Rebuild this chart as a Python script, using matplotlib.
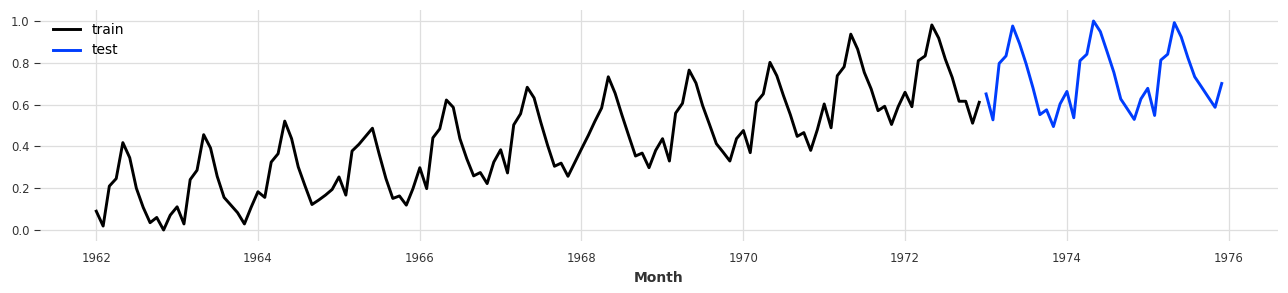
import matplotlib
matplotlib.use("Agg")
import matplotlib.pyplot as plt
import matplotlib.dates as mdates
import pandas as pd

# scaled monthly values
train_values = [
    0.090, 0.019, 0.210, 0.246, 0.418, 0.346, 0.200, 0.108, 0.035, 0.060, 0.000, 0.071,  # 1962
    0.111, 0.029, 0.241, 0.286, 0.456, 0.392, 0.257, 0.156, 0.119, 0.083, 0.029, 0.108,  # 1963
    0.183, 0.156, 0.325, 0.365, 0.521, 0.437, 0.302, 0.210, 0.122, 0.143, 0.167, 0.194,  # 1964
    0.254, 0.167, 0.378, 0.410, 0.448, 0.487, 0.365, 0.246, 0.151, 0.163, 0.119, 0.198,  # 1965
    0.298, 0.198, 0.441, 0.484, 0.622, 0.587, 0.437, 0.341, 0.259, 0.275, 0.222, 0.325,  # 1966
    0.384, 0.273, 0.503, 0.556, 0.683, 0.632, 0.516, 0.405, 0.305, 0.320, 0.257, 0.322,  # 1967
    0.388, 0.453, 0.519, 0.584, 0.733, 0.654, 0.552, 0.452, 0.354, 0.368, 0.298, 0.381,  # 1968
    0.437, 0.330, 0.559, 0.606, 0.765, 0.703, 0.595, 0.505, 0.413, 0.373, 0.330, 0.437,  # 1969
    0.476, 0.370, 0.611, 0.651, 0.802, 0.738, 0.643, 0.552, 0.448, 0.466, 0.381, 0.480,  # 1970
    0.603, 0.489, 0.738, 0.781, 0.937, 0.865, 0.754, 0.675, 0.571, 0.592, 0.505, 0.590,  # 1971
    0.659, 0.590, 0.810, 0.833, 0.981, 0.918, 0.817, 0.730, 0.616, 0.616, 0.511, 0.611,  # 1972
]
test_values = [
    0.651, 0.527, 0.797, 0.833, 0.976, 0.892, 0.794, 0.679, 0.552, 0.575, 0.495, 0.603,  # 1973
    0.663, 0.537, 0.810, 0.841, 1.000, 0.949, 0.854, 0.754, 0.627, 0.579, 0.529, 0.627,  # 1974
    0.678, 0.548, 0.813, 0.841, 0.992, 0.924, 0.825, 0.733, 0.684, 0.636, 0.587, 0.701,  # 1975
]
train_dates = pd.date_range("1962-01-01", periods=len(train_values), freq="MS")
test_dates = pd.date_range("1973-01-01", periods=len(test_values), freq="MS")

plt.rcParams.update({
    "axes.labelcolor": "#333333",
    "axes.labelweight": 600,
    "xtick.color": "#333333",
    "ytick.color": "#333333",
    "xtick.labelsize": "small",
    "ytick.labelsize": "small",
})

fig = plt.figure(figsize=(12.88, 2.93), dpi=100)
ax = fig.add_axes([40 / 1288, 52 / 293, 1238 / 1288, 231 / 293])

ax.plot(train_dates, train_values, color="black", lw=2.1, label="train")
ax.plot(test_dates, test_values, color="#003DFD", lw=2.1, label="test")

for s in ax.spines.values():
    s.set_visible(False)
ax.grid(True, color="#dedede", lw=0.9)
ax.set_axisbelow(True)

ax.xaxis.set_major_locator(mdates.YearLocator(2))
ax.xaxis.set_major_formatter(mdates.DateFormatter("%Y"))
ax.tick_params(axis="x", length=0, pad=8)
ax.tick_params(axis="y", length=4, color="#333333")
ax.set_ylim(-0.0526, 1.0526)
ax.set_yticks([0.0, 0.2, 0.4, 0.6, 0.8, 1.0])

ax.set_xlabel("Month")
ax.legend(loc="upper left", frameon=False)

fig.savefig("out.png", dpi=100)
